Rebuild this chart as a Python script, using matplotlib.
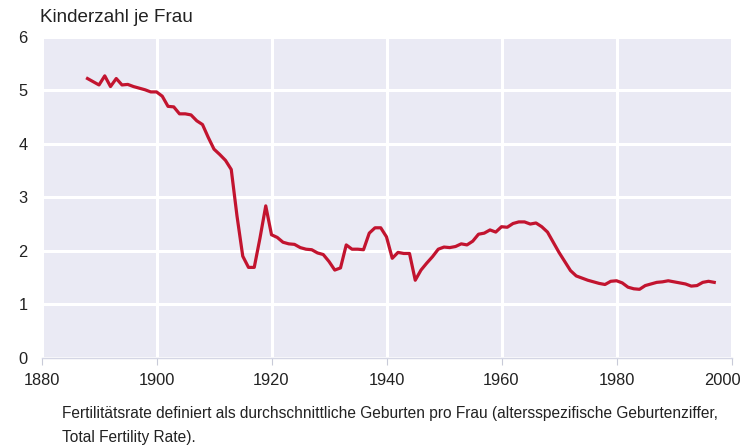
import matplotlib
matplotlib.use("Agg")
import matplotlib.pyplot as plt
from matplotlib.transforms import ScaledTranslation

years = list(range(1888, 1998))
tfr = [
    5.22, 5.16, 5.10, 5.27, 5.07, 5.22, 5.10, 5.11, 5.07, 5.04,   # 1888-1897
    5.01, 4.97, 4.97, 4.89, 4.70, 4.69, 4.56, 4.56, 4.54, 4.43,   # 1898-1907
    4.36, 4.12, 3.90, 3.80, 3.69, 3.52, 2.65, 1.90, 1.69, 1.69,   # 1908-1917
    2.24, 2.84, 2.30, 2.25, 2.16, 2.13, 2.12, 2.06, 2.03, 2.02,   # 1918-1927
    1.96, 1.93, 1.80, 1.64, 1.68, 2.11, 2.03, 2.03, 2.02, 2.33,   # 1928-1937
    2.43, 2.43, 2.26, 1.86, 1.97, 1.95, 1.95, 1.45, 1.64, 1.77,   # 1938-1947
    1.89, 2.03, 2.07, 2.06, 2.08, 2.13, 2.11, 2.18, 2.31, 2.33,   # 1948-1957
    2.39, 2.35, 2.45, 2.44, 2.51, 2.54, 2.54, 2.50, 2.52, 2.45,   # 1958-1967
    2.35, 2.16, 1.97, 1.80, 1.63, 1.53, 1.49, 1.45, 1.42, 1.39,   # 1968-1977
    1.37, 1.43, 1.44, 1.40, 1.32, 1.29, 1.28, 1.35, 1.38, 1.41,   # 1978-1987
    1.42, 1.44, 1.42, 1.40, 1.38, 1.34, 1.35, 1.41, 1.43, 1.41,   # 1988-1997
]
x_ticks = [1880, 1900, 1920, 1940, 1960, 1980, 2000]
y_ticks = [0, 1, 2, 3, 4, 5, 6]
y_label = "Kinderzahl je Frau"
caption_lines = [
    "Fertilitätsrate definiert als durchschnittliche Geburten pro Frau (altersspezifische Geburtenziffer,",
    "Total Fertility Rate).",
]

plt.rcParams['font.family'] = ['Liberation Sans', 'DejaVu Sans']

fig = plt.figure(figsize=(7.44, 4.48), dpi=100)
ax = fig.add_axes([41.5/744, 1-357.8/448, 690/744, 321/448])
ax.set_facecolor('#EAEAF4')
ax.plot(years, tfr, color='#C2142F', lw=2.3, solid_joinstyle='round', zorder=3)
ax.set_xlim(1880, 2000)
ax.set_ylim(0, 6)
ax.set_xticks(x_ticks)
ax.set_yticks(y_ticks)
ax.grid(True, color='white', lw=2.2, zorder=1)
ax.set_axisbelow(True)
for s in ['top', 'right', 'left']:
    ax.spines[s].set_visible(False)
ax.spines['bottom'].set_color('#D4D6E4')
ax.spines['bottom'].set_linewidth(1.0)
ax.tick_params(axis='x', length=5, color='#C8CAD8', labelsize=11.8, pad=6, labelcolor='#222222')
ax.tick_params(axis='y', length=0, labelsize=11.8, pad=10, labelcolor='#222222')
# keep the last x label inside the figure, as in the reference
last = ax.get_xticklabels()[-1]
last.set_transform(last.get_transform() + ScaledTranslation(-9/100, 0, fig.dpi_scale_trans))
fig.text(40/744, 1-17/448, y_label, fontsize=13.6, va='center', ha='left', color='#222222')
for i, line in enumerate(caption_lines):
    fig.text(62/744, 1-(413 + 24*i)/448, line, fontsize=11.2, va='center', ha='left', color='#222222')
fig.savefig('out.png', dpi=100)
